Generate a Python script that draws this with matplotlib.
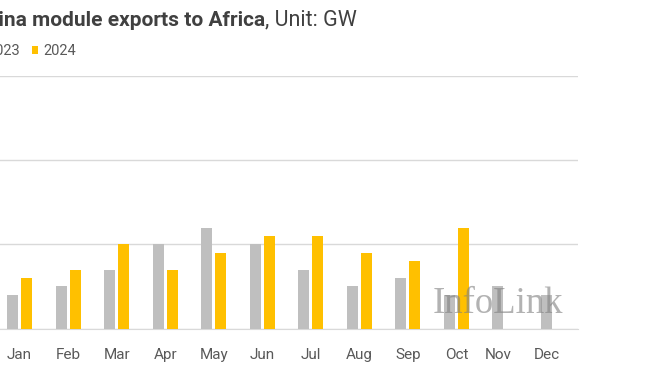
import matplotlib.pyplot as plt
import numpy as np

plt.rcParams["font.family"] = ["Roboto", "DejaVu Sans"]

months = ["Jan", "Feb", "Mar", "Apr", "May", "Jun",
          "Jul", "Aug", "Sep", "Oct", "Nov", "Dec"]
exports_2023 = [0.4, 0.5, 0.7, 1.0, 1.2, 1.0, 0.7, 0.5, 0.6, 0.4, 0.5, 0.4]
exports_2024 = [0.6, 0.7, 1.0, 0.7, 0.9, 1.1, 1.1, 0.9, 0.8, 1.2, np.nan, np.nan]

GRAY = "#bfbfbf"
YELLOW = "#ffc000"
TEXT = "#595959"

fig = plt.figure(figsize=(6.72, 3.72), dpi=100)
# axes deliberately spill slightly past the left edge (reference is cropped)
ax = fig.add_axes([-4.75 / 672, 43.5 / 372, 582.5 / 672, 252.5 / 372])

x = np.arange(len(months))
w = 0.227
off = 0.144
ax.bar(x - off, exports_2023, w, color=GRAY, label="2023", zorder=3)
ax.bar(x + off, exports_2024, w, color=YELLOW, label="2024", zorder=3)

# months without 2024 data: label sits under the single grey bar
has_2024 = ~np.isnan(np.array(exports_2024))
ticks = np.where(has_2024, x, x - off)
ax.set_xticks(ticks)
ax.set_xticklabels(months, fontsize=11, color=TEXT)
ax.tick_params(axis="x", length=0, pad=14)
ax.set_xlim(-0.5, 11.5)

ax.set_ylim(0, 3)
ax.set_yticks([0, 1, 2, 3])
ax.tick_params(axis="y", left=False, labelleft=False)
ax.grid(axis="y", color="#d9d9d9", lw=1, zorder=0)
for s in ["top", "right", "left"]:
    ax.spines[s].set_visible(False)
ax.spines["bottom"].set_color("#d9d9d9")
ax.spines["bottom"].set_zorder(1)

# title: bold part + regular unit
fig.text(265 / 672, 1 - 20 / 372, "China module exports to Africa",
         ha="right", va="center", fontsize=15, fontweight="bold", color="#404040")
fig.text(265 / 672, 1 - 20 / 372, ", Unit: GW",
         ha="left", va="center", fontsize=15.5, color="#404040")

fig.legend(loc="center left", bbox_to_anchor=(-24 / 672, 1 - 51 / 372),
           ncol=2, frameon=False, fontsize=10.5, labelcolor=TEXT,
           handlelength=0.42, handleheight=0.42, handletextpad=0.36,
           columnspacing=0.8, borderpad=0, borderaxespad=0)

fig.text(498 / 672, 1 - 304 / 372, "InfoLink", ha="center", va="center",
         fontsize=26.5, family="Liberation Serif", color="#808080", alpha=0.6,
         zorder=10)

fig.savefig("out.png", dpi=100)
